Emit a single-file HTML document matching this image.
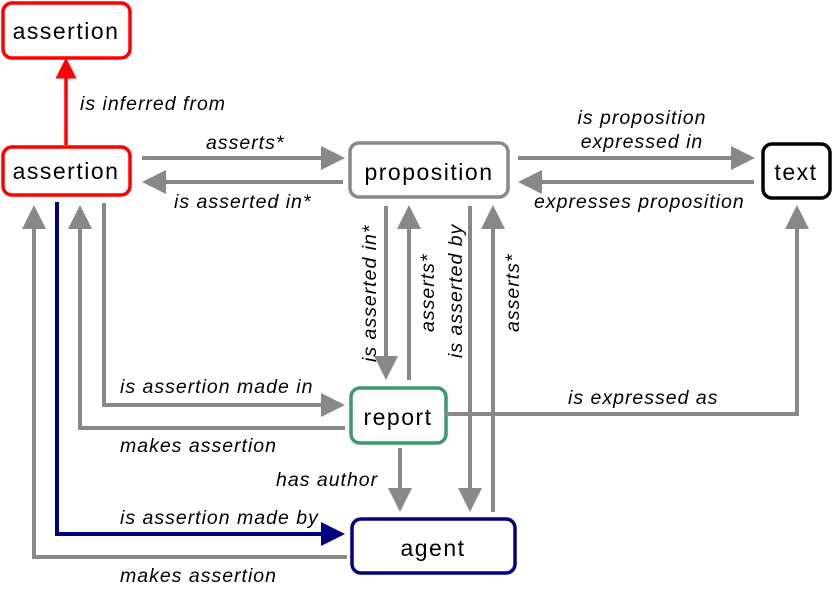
<!DOCTYPE html>
<html><head><meta charset="utf-8"><style>
html,body{margin:0;padding:0;background:#fff;}
svg{display:block;}
.n{font-family:"Liberation Sans",sans-serif;font-size:23px;letter-spacing:1.5px;fill:#000;text-anchor:middle;}
.l{font-family:"Liberation Sans",sans-serif;font-size:19.5px;letter-spacing:1px;font-style:italic;fill:#000;}
.g{stroke:#888;stroke-width:4;fill:none;}
</style></head><body>
<svg width="832" height="599" viewBox="0 0 832 599" xmlns="http://www.w3.org/2000/svg">
<defs>
<marker id="ag" markerWidth="6" markerHeight="6" refX="3" refY="3" orient="auto" markerUnits="strokeWidth"><path d="M0,0 L6,3 L0,6 Z" fill="#888"/></marker>
<marker id="ar" markerWidth="6" markerHeight="6" refX="3" refY="3" orient="auto" markerUnits="strokeWidth"><path d="M0,0 L6,3 L0,6 Z" fill="#f00"/></marker>
<marker id="ab" markerWidth="6" markerHeight="6" refX="3" refY="3" orient="auto" markerUnits="strokeWidth"><path d="M0,0 L6,3 L0,6 Z" fill="#000080"/></marker>
</defs>
<rect x="3" y="3" width="127" height="55" rx="9" fill="#fff" stroke="#f00" stroke-width="3.5"/>
<text class="n" x="66" y="39">assertion</text>
<rect x="3" y="147" width="127" height="48" rx="9" fill="#fff" stroke="#f00" stroke-width="3.5"/>
<text class="n" x="66" y="179">assertion</text>
<rect x="350" y="143" width="158" height="54" rx="9" fill="#fff" stroke="#888" stroke-width="3.5"/>
<text class="n" x="429" y="180">proposition</text>
<rect x="763" y="144" width="67" height="54" rx="9" fill="#fff" stroke="#000" stroke-width="3.5"/>
<text class="n" x="796" y="180">text</text>
<rect x="351" y="388" width="95" height="55" rx="9" fill="#fff" stroke="#3a9a6a" stroke-width="3.5"/>
<text class="n" x="398" y="425">report</text>
<rect x="352" y="519" width="163" height="54" rx="9" fill="#fff" stroke="#000080" stroke-width="3.5"/>
<text class="n" x="433" y="556">agent</text>
<line x1="66" y1="145" x2="66" y2="68" stroke="#f00" stroke-width="3.5" marker-end="url(#ar)"/>
<text class="l" x="80" y="110">is inferred from</text>
<line class="g" x1="142" y1="158" x2="333" y2="158" marker-end="url(#ag)"/>
<text class="l" x="206" y="149">asserts*</text>
<line class="g" x1="343" y1="182" x2="154" y2="182" marker-end="url(#ag)"/>
<text class="l" x="174" y="208">is asserted in*</text>
<line class="g" x1="518" y1="158" x2="743" y2="158" marker-end="url(#ag)"/>
<text class="l" x="642" y="124" text-anchor="middle">is proposition</text>
<text class="l" x="642" y="148" text-anchor="middle">expressed in</text>
<line class="g" x1="754" y1="182" x2="530" y2="182" marker-end="url(#ag)"/>
<text class="l" x="534" y="208">expresses proposition</text>
<line class="g" x1="386" y1="206" x2="386" y2="368" marker-end="url(#ag)"/>
<line class="g" x1="409" y1="380" x2="409" y2="217" marker-end="url(#ag)"/>
<line class="g" x1="470" y1="206" x2="470" y2="500" marker-end="url(#ag)"/>
<line class="g" x1="493" y1="512" x2="493" y2="217" marker-end="url(#ag)"/>
<text class="l" transform="translate(376,362) rotate(-90)">is asserted in*</text>
<text class="l" transform="translate(434,332) rotate(-90)">asserts*</text>
<text class="l" transform="translate(462,358) rotate(-90)">is asserted by</text>
<text class="l" transform="translate(519,332) rotate(-90)">asserts*</text>
<polyline class="g" points="446,414 797,414 797,217" marker-end="url(#ag)"/>
<text class="l" x="568" y="404">is expressed as</text>
<line class="g" x1="400" y1="448" x2="400" y2="500" marker-end="url(#ag)"/>
<text class="l" x="276" y="486">has author</text>
<polyline class="g" points="104,203 104,405 333,405" marker-end="url(#ag)"/>
<text class="l" x="120" y="393">is assertion made in</text>
<polyline class="g" points="345,428 80,428 80,217" marker-end="url(#ag)"/>
<text class="l" x="120" y="452">makes assertion</text>
<polyline points="57,202 57,534 333,534" stroke="#000080" stroke-width="4" fill="none" marker-end="url(#ab)"/>
<text class="l" x="120" y="524">is assertion made by</text>
<polyline class="g" points="347,557 34,557 34,217" marker-end="url(#ag)"/>
<text class="l" x="120" y="582">makes assertion</text>
</svg>
</body></html>
